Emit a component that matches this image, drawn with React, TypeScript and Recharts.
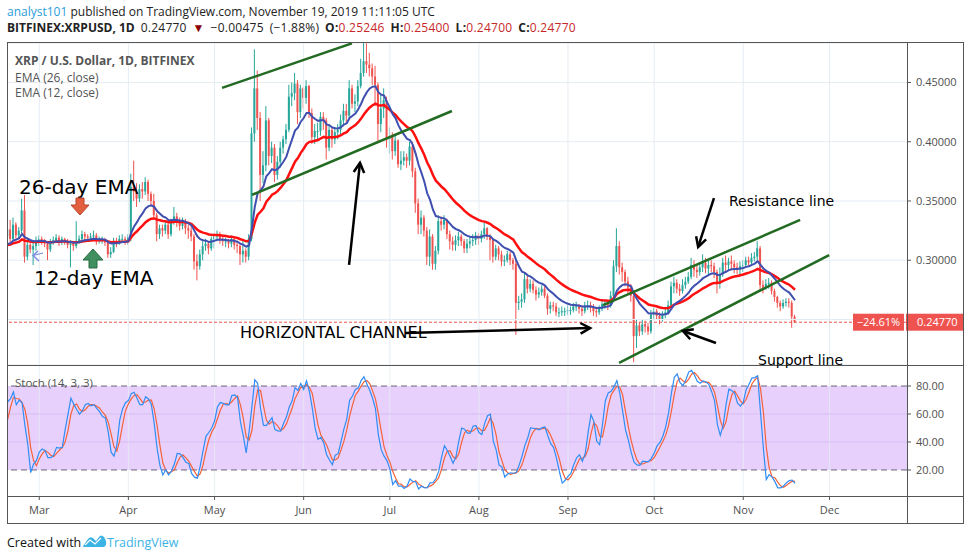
import React from "react";
import {
  ComposedChart,
  Bar,
  Line,
  XAxis,
  YAxis,
  CartesianGrid,
  ReferenceLine,
  ReferenceArea,
} from "recharts";

// day index: Mar 1 = 0, first candle Feb 18 = -11
const FIRST_DAY = -11;
const X_DOMAIN = [-11.24, 301.98];
const MONTHS = ["Mar", "Apr", "May", "Jun", "Jul", "Aug", "Sep", "Oct", "Nov", "Dec"];
const MONTH_DAYS = [0, 31, 61, 92, 122, 153, 184, 214, 245, 275];
const PRICE_TICKS = [0.3, 0.35, 0.4, 0.45];
const PRICE_DOMAIN = [0.2116, 0.4833];
const STOCH_TICKS = [20, 40, 60, 80];
const STOCH_DOMAIN = [1.4, 94.3];
const LAST_PRICE = 0.2477;

// Feb 1 - Feb 17, only used to warm up the indicators
const WARM_CLOSES = [0.306, 0.309, 0.305, 0.302, 0.3, 0.302, 0.301, 0.318, 0.314, 0.311, 0.308, 0.312, 0.308, 0.31, 0.311, 0.313, 0.32];
const WARM_HIGHS = [0.312, 0.313, 0.31, 0.307, 0.305, 0.306, 0.305, 0.322, 0.33, 0.318, 0.314, 0.316, 0.314, 0.314, 0.315, 0.317, 0.326];
const WARM_LOWS = [0.3, 0.303, 0.3, 0.298, 0.296, 0.298, 0.297, 0.3, 0.31, 0.306, 0.304, 0.306, 0.303, 0.305, 0.307, 0.308, 0.311];
const EMA12_SEED = 0.309;
const EMA26_SEED = 0.316;

// daily closes Feb 18 - Nov 19
const CLOSES = [
  // Feb
  0.326, 0.318, 0.33, 0.321, 0.325, 0.342, 0.303, 0.313, 0.309, 0.312, 0.316,
  // Mar
  0.318, 0.316, 0.314, 0.309, 0.316, 0.317, 0.319, 0.315, 0.318, 0.316, 0.313, 0.314, 0.312, 0.315, 0.318, 0.322,
  0.32, 0.319, 0.32, 0.321, 0.316, 0.317, 0.317, 0.315, 0.305, 0.307, 0.316, 0.314, 0.318, 0.318, 0.317,
  // Apr
  0.319, 0.362, 0.358, 0.352, 0.36, 0.358, 0.366, 0.356, 0.35, 0.338, 0.322, 0.327, 0.325, 0.33, 0.322,
  0.333, 0.337, 0.333, 0.329, 0.333, 0.327, 0.325, 0.32, 0.299, 0.295, 0.305, 0.312, 0.314, 0.31, 0.318,
  // May
  0.32, 0.322, 0.318, 0.316, 0.316, 0.314, 0.318, 0.313, 0.312, 0.305, 0.308, 0.303, 0.318, 0.407, 0.445, 0.42,
  0.372, 0.38, 0.418, 0.388, 0.395, 0.372, 0.383, 0.395, 0.402, 0.41, 0.438, 0.441, 0.449, 0.425, 0.445,
  // Jun
  0.437, 0.447, 0.424, 0.404, 0.409, 0.409, 0.421, 0.418, 0.395, 0.41, 0.402, 0.408, 0.41, 0.418, 0.426,
  0.422, 0.445, 0.432, 0.434, 0.447, 0.458, 0.468, 0.465, 0.462, 0.455, 0.448, 0.415, 0.428, 0.435, 0.402,
  // Jul
  0.404, 0.392, 0.401, 0.381, 0.384, 0.387, 0.384, 0.396, 0.375, 0.348, 0.33, 0.336, 0.325, 0.303, 0.32, 0.297,
  0.308, 0.333, 0.33, 0.334, 0.322, 0.316, 0.313, 0.317, 0.32, 0.316, 0.31, 0.314, 0.316, 0.317, 0.321,
  // Aug
  0.318, 0.322, 0.327, 0.32, 0.317, 0.303, 0.31, 0.305, 0.299, 0.3, 0.305, 0.3, 0.297, 0.264, 0.265, 0.267,
  0.284, 0.276, 0.28, 0.275, 0.271, 0.273, 0.276, 0.27, 0.259, 0.262, 0.261, 0.256, 0.256, 0.257, 0.257,
  // Sep
  0.258, 0.258, 0.261, 0.261, 0.259, 0.257, 0.262, 0.262, 0.26, 0.257, 0.256, 0.259, 0.263, 0.264, 0.262,
  0.27, 0.295, 0.312, 0.294, 0.29, 0.282, 0.277, 0.27, 0.236, 0.245, 0.24, 0.246, 0.244, 0.24, 0.254,
  // Oct
  0.257, 0.253, 0.25, 0.254, 0.256, 0.262, 0.278, 0.281, 0.276, 0.274, 0.279, 0.282, 0.286, 0.296, 0.292, 0.29,
  0.294, 0.298, 0.293, 0.296, 0.295, 0.29, 0.28, 0.288, 0.298, 0.296, 0.299, 0.297, 0.294, 0.292, 0.295,
  // Nov
  0.296, 0.3, 0.298, 0.302, 0.303, 0.31, 0.279, 0.277, 0.28, 0.281, 0.274, 0.269, 0.264, 0.261, 0.264, 0.265,
  0.264, 0.2525, 0.2477,
];

const HIGHS = [
  0.331, 0.334, 0.336, 0.332, 0.328, 0.352, 0.355, 0.318, 0.316, 0.315, 0.32,
  0.321, 0.32, 0.318, 0.316, 0.318, 0.32, 0.322, 0.321, 0.32, 0.319, 0.318, 0.317, 0.316, 0.333, 0.321, 0.325,
  0.324, 0.322, 0.323, 0.325, 0.323, 0.32, 0.32, 0.319, 0.316, 0.311, 0.319, 0.319, 0.321, 0.322, 0.32,
  0.322, 0.373, 0.384, 0.365, 0.364, 0.366, 0.37, 0.368, 0.358, 0.356, 0.34, 0.33, 0.33, 0.333, 0.334,
  0.335, 0.345, 0.34, 0.336, 0.336, 0.335, 0.33, 0.33, 0.322, 0.305, 0.309, 0.316, 0.318, 0.316, 0.32,
  0.323, 0.325, 0.324, 0.32, 0.319, 0.318, 0.321, 0.32, 0.316, 0.314, 0.318, 0.31, 0.322, 0.412, 0.478, 0.46,
  0.425, 0.392, 0.43, 0.42, 0.4, 0.398, 0.388, 0.4, 0.405, 0.415, 0.448, 0.45, 0.458, 0.452, 0.448,
  0.446, 0.452, 0.448, 0.428, 0.415, 0.416, 0.425, 0.425, 0.42, 0.415, 0.412, 0.412, 0.415, 0.423, 0.432,
  0.432, 0.452, 0.448, 0.44, 0.452, 0.47, 0.487, 0.483, 0.475, 0.466, 0.464, 0.45, 0.44, 0.445, 0.438,
  0.412, 0.408, 0.405, 0.402, 0.392, 0.392, 0.39, 0.4, 0.4, 0.378, 0.352, 0.342, 0.338, 0.328, 0.326, 0.322,
  0.312, 0.338, 0.337, 0.338, 0.335, 0.325, 0.32, 0.321, 0.324, 0.322, 0.318, 0.318, 0.32, 0.322, 0.324,
  0.323, 0.325, 0.332, 0.328, 0.322, 0.318, 0.313, 0.312, 0.308, 0.304, 0.308, 0.307, 0.302, 0.3, 0.27, 0.272,
  0.29, 0.287, 0.284, 0.283, 0.278, 0.277, 0.279, 0.278, 0.272, 0.265, 0.265, 0.264, 0.26, 0.261, 0.26,
  0.262, 0.261, 0.264, 0.265, 0.263, 0.262, 0.265, 0.266, 0.265, 0.263, 0.26, 0.262, 0.266, 0.267, 0.266,
  0.274, 0.3, 0.327, 0.316, 0.298, 0.292, 0.286, 0.28, 0.272, 0.25, 0.248, 0.25, 0.249, 0.247, 0.258,
  0.26, 0.259, 0.256, 0.257, 0.259, 0.266, 0.282, 0.286, 0.284, 0.28, 0.284, 0.286, 0.29, 0.302, 0.3, 0.296,
  0.298, 0.305, 0.302, 0.3, 0.3, 0.298, 0.292, 0.294, 0.302, 0.304, 0.302, 0.304, 0.3, 0.298, 0.299,
  0.3, 0.303, 0.303, 0.306, 0.307, 0.316, 0.312, 0.283, 0.284, 0.285, 0.283, 0.276, 0.27, 0.266, 0.267, 0.268,
  0.268, 0.266, 0.254,
];

const LOWS = [
  0.312, 0.314, 0.316, 0.318, 0.318, 0.323, 0.298, 0.3, 0.306, 0.296, 0.308,
  0.312, 0.313, 0.311, 0.3, 0.307, 0.313, 0.315, 0.312, 0.313, 0.313, 0.31, 0.294, 0.308, 0.31, 0.314, 0.316,
  0.316, 0.316, 0.317, 0.317, 0.313, 0.314, 0.314, 0.312, 0.302, 0.302, 0.306, 0.311, 0.313, 0.315, 0.313,
  0.313, 0.316, 0.35, 0.345, 0.349, 0.352, 0.355, 0.35, 0.345, 0.335, 0.316, 0.318, 0.32, 0.322, 0.318,
  0.32, 0.33, 0.328, 0.325, 0.326, 0.322, 0.318, 0.316, 0.292, 0.283, 0.292, 0.3, 0.308, 0.305, 0.308,
  0.31, 0.316, 0.314, 0.312, 0.311, 0.31, 0.311, 0.309, 0.306, 0.296, 0.298, 0.298, 0.3, 0.316, 0.4, 0.41,
  0.35, 0.365, 0.375, 0.38, 0.382, 0.366, 0.368, 0.378, 0.39, 0.398, 0.408, 0.43, 0.435, 0.415, 0.42,
  0.428, 0.432, 0.42, 0.398, 0.398, 0.402, 0.405, 0.41, 0.385, 0.392, 0.395, 0.398, 0.402, 0.406, 0.414,
  0.415, 0.42, 0.428, 0.425, 0.43, 0.445, 0.455, 0.458, 0.455, 0.448, 0.43, 0.4, 0.408, 0.42, 0.395,
  0.39, 0.385, 0.388, 0.378, 0.376, 0.38, 0.378, 0.38, 0.37, 0.34, 0.322, 0.322, 0.32, 0.296, 0.295, 0.292,
  0.292, 0.305, 0.325, 0.326, 0.318, 0.309, 0.308, 0.308, 0.312, 0.312, 0.306, 0.306, 0.31, 0.312, 0.313,
  0.313, 0.315, 0.318, 0.317, 0.3, 0.298, 0.3, 0.3, 0.295, 0.295, 0.298, 0.296, 0.292, 0.237, 0.258, 0.26,
  0.264, 0.272, 0.273, 0.272, 0.266, 0.268, 0.27, 0.268, 0.254, 0.255, 0.257, 0.253, 0.252, 0.253, 0.253,
  0.254, 0.254, 0.256, 0.257, 0.255, 0.253, 0.255, 0.258, 0.256, 0.253, 0.252, 0.254, 0.257, 0.259, 0.258,
  0.26, 0.268, 0.29, 0.288, 0.282, 0.278, 0.272, 0.265, 0.214, 0.226, 0.236, 0.237, 0.239, 0.237, 0.238,
  0.25, 0.25, 0.246, 0.248, 0.251, 0.254, 0.26, 0.272, 0.272, 0.27, 0.272, 0.276, 0.28, 0.284, 0.286, 0.285,
  0.287, 0.29, 0.289, 0.288, 0.29, 0.285, 0.272, 0.276, 0.286, 0.29, 0.291, 0.292, 0.289, 0.288, 0.288,
  0.29, 0.294, 0.295, 0.296, 0.299, 0.3, 0.275, 0.272, 0.275, 0.276, 0.271, 0.265, 0.26, 0.257, 0.259, 0.261,
  0.26, 0.243, 0.247,
];

// drawn channel lines [day, price]
const TREND_LINES = [
  [[63.6, 0.4454], [108.8, 0.483]],
  [[74.0, 0.3551], [143.6, 0.4259]],
  [[196.2, 0.2622], [264.8, 0.334]],
  [[201.8, 0.2133], [274.9, 0.3044]],
];
const ARROWS = [
  [[107.8, 0.296], [111.6, 0.3821]],
  [[127.3, 0.2386], [191.7, 0.2428]],
  [[234.8, 0.3525], [229.3, 0.3112]],
  [[235.5, 0.2302], [224.0, 0.2403]],
];

const UP = "#26a69a";
const DOWN = "#ef5350";
const GRID = "#e4ecf3";
const AXIS_TEXT = "#4f4f4f";

function ema(values: number[], n: number, seed: number) {
  const a = 2 / (n + 1);
  let e = seed;
  return values.map((v) => (e = e + a * (v - e)));
}

function sma3(arr: (number | null)[]) {
  return arr.map((v, i) =>
    i < 2 || v == null || arr[i - 1] == null || arr[i - 2] == null
      ? null
      : ((v as number) + (arr[i - 1] as number) + (arr[i - 2] as number)) / 3
  );
}

const ALL_C = [...WARM_CLOSES, ...CLOSES];
const ALL_H = [...WARM_HIGHS, ...HIGHS];
const ALL_L = [...WARM_LOWS, ...LOWS];
const W = WARM_CLOSES.length;
const EMA12 = ema(ALL_C, 12, EMA12_SEED);
const EMA26 = ema(ALL_C, 26, EMA26_SEED);
const RAW_K = ALL_C.map((c, i) => {
  if (i < 13) return null;
  const hh = Math.max(...ALL_H.slice(i - 13, i + 1));
  const ll = Math.min(...ALL_L.slice(i - 13, i + 1));
  return (100 * (c - ll)) / (hh - ll);
});
const K = sma3(RAW_K);
const D = sma3(K);

const ROWS = CLOSES.map((close, i) => {
  const open = ALL_C[W + i - 1];
  return {
    day: FIRST_DAY + i,
    open,
    close,
    high: Math.max(HIGHS[i], open, close),
    low: Math.min(LOWS[i], open, close),
    ema12: EMA12[W + i],
    ema26: EMA26[W + i],
    k: K[W + i],
    d: D[W + i],
  };
});

function Candle(props: any) {
  const { x, y, width, height, payload } = props;
  if (!payload) return null;
  const { open, close, high, low } = payload;
  const top = Math.min(y, y + height);
  const span = Math.abs(height);
  const ppu = span / (high - low || 1);
  const yOf = (v: number) => top + (high - v) * ppu;
  const color = close >= open ? UP : DOWN;
  const cx = x + width / 2;
  const bTop = yOf(Math.max(open, close));
  const bBot = yOf(Math.min(open, close));
  return (
    <g>
      <line x1={cx} x2={cx} y1={top} y2={top + span} stroke={color} strokeWidth={1} />
      <rect x={cx - 1} y={bTop} width={2} height={Math.max(1, bBot - bTop)} fill={color} />
    </g>
  );
}

function ArrowShape(p: any) {
  const { x1, y1, x2, y2 } = p;
  const ang = Math.atan2(y2 - y1, x2 - x1);
  const len = 11;
  const s = 0.5;
  const ax = x2 - len * Math.cos(ang - s);
  const ay = y2 - len * Math.sin(ang - s);
  const bx = x2 - len * Math.cos(ang + s);
  const by = y2 - len * Math.sin(ang + s);
  return (
    <g>
      <line x1={x1} y1={y1} x2={x2} y2={y2} stroke="#000" strokeWidth={2.5} />
      <polyline points={`${ax},${ay} ${x2},${y2} ${bx},${by}`} fill="none" stroke="#000" strokeWidth={2.5} />
    </g>
  );
}

function PriceTag(props: any) {
  const vb = props.viewBox || {};
  const right = vb.x + vb.width;
  const y = vb.y;
  return (
    <g>
      <rect x={right - 54} y={y - 8.5} width={51} height={17} fill="#ef5350" />
      <text x={right - 28.5} y={y + 4} textAnchor="middle" fill="#fff" fontSize={11} fontFamily="Open Sans">
        −24.61%
      </text>
      <rect x={right - 1} y={y - 8.5} width={58} height={17} fill="#ef5350" />
      <text x={right + 10} y={y + 4} fill="#fff" fontSize={11} fontFamily="Open Sans">
        0.24770
      </text>
    </g>
  );
}

const monthLabel = (v: number) => MONTHS[MONTH_DAYS.indexOf(v)] ?? "";

export default function App() {
  const red = { color: "#c62828" };
  return (
    <div
      style={{
        position: "absolute",
        left: 0,
        top: 0,
        width: 971,
        height: 560,
        background: "#fff",
        fontFamily: "'Open Sans', sans-serif",
        overflow: "hidden",
      }}
    >
      <div style={{ position: "absolute", left: 7, top: 4, fontSize: 12, lineHeight: "16px", whiteSpace: "nowrap", color: "#222" }}>
        <span style={{ color: "#2b9ed9" }}>analyst101</span> published on TradingView.com, November 19, 2019 11:11:05 UTC
      </div>
      <div style={{ position: "absolute", left: 7, top: 20, fontSize: 12, lineHeight: "16px", whiteSpace: "nowrap", color: "#222" }}>
        <b>BITFINEX:XRPUSD, 1D</b>
        <span style={{ letterSpacing: 0.25, wordSpacing: 2.5 }}>
          {" "}0.24770 <span style={{ color: "#8b0000" }}>▼</span> −0.00475 (−1.88%) <b>O:</b>
          <span style={red}>0.25246</span> <b>H:</b>
          <span style={red}>0.25400</span> <b>L:</b>
          <span style={red}>0.24700</span> <b>C:</b>
          <span style={red}>0.24770</span>
        </span>
      </div>

      <div style={{ position: "absolute", left: 7, top: 43 }}>
        <ComposedChart width={957} height={322} data={ROWS} margin={{ top: 0, right: 0, bottom: 0, left: 0 }}>
          <CartesianGrid vertical={false} stroke={GRID} />
          <XAxis dataKey="day" type="number" domain={X_DOMAIN} hide allowDataOverflow />
          <YAxis
            orientation="right"
            domain={PRICE_DOMAIN}
            ticks={PRICE_TICKS}
            allowDataOverflow
            width={57}
            axisLine={false}
            tickSize={4}
            tickMargin={5}
            tickLine={{ stroke: "#555" }}
            tick={{ fontSize: 11, fill: AXIS_TEXT, fontFamily: "Open Sans" }}
            tickFormatter={(v: number) => v.toFixed(5)}
          />
          <ReferenceLine y={0.25} stroke={GRID} />
          {MONTH_DAYS.map((d) => (
            <ReferenceLine key={d} x={d} stroke={GRID} />
          ))}
          <Bar
            dataKey={(r: any) => [r.low, r.high]}
            barSize={2}
            shape={<Candle />}
            isAnimationActive={false}
          />
          <Line dataKey="ema26" stroke="#ff1010" strokeWidth={2.5} dot={false} activeDot={false} isAnimationActive={false} />
          <Line dataKey="ema12" stroke="#3f4fb0" strokeWidth={2} dot={false} activeDot={false} isAnimationActive={false} />
          <ReferenceLine y={LAST_PRICE} stroke="#ef5350" strokeDasharray="3 2" label={<PriceTag />} />
          {TREND_LINES.map((s, i) => (
            <ReferenceLine
              key={"t" + i}
              segment={[{ x: s[0][0], y: s[0][1] }, { x: s[1][0], y: s[1][1] }]}
              stroke="#236b23"
              strokeWidth={2.5}
              ifOverflow="visible"
            />
          ))}
          {ARROWS.map((s, i) => (
            <ReferenceLine
              key={"a" + i}
              segment={[{ x: s[0][0], y: s[0][1] }, { x: s[1][0], y: s[1][1] }]}
              shape={(p: any) => <ArrowShape {...p} />}
              ifOverflow="visible"
            />
          ))}
        </ComposedChart>
      </div>

      <div style={{ position: "absolute", left: 7, top: 366 }}>
        <ComposedChart width={957} height={157} data={ROWS} margin={{ top: 0, right: 0, bottom: 0, left: 0 }}>
          <XAxis
            dataKey="day"
            type="number"
            domain={X_DOMAIN}
            ticks={MONTH_DAYS}
            allowDataOverflow
            height={27}
            axisLine={false}
            tickSize={4}
            tickMargin={6}
            tickLine={{ stroke: "#555" }}
            tick={{ fontSize: 11, fill: AXIS_TEXT, fontFamily: "Open Sans" }}
            tickFormatter={monthLabel}
          />
          <YAxis
            orientation="right"
            domain={STOCH_DOMAIN}
            ticks={STOCH_TICKS}
            allowDataOverflow
            width={57}
            axisLine={false}
            tickSize={4}
            tickMargin={5}
            tickLine={{ stroke: "#555" }}
            tick={{ fontSize: 11, fill: AXIS_TEXT, fontFamily: "Open Sans" }}
            tickFormatter={(v: number) => v.toFixed(2)}
          />
          <ReferenceArea y1={20} y2={80} fill="#e8d0fc" fillOpacity={1} stroke="none" />
          {MONTH_DAYS.map((d) => (
            <ReferenceLine key={d} x={d} stroke={GRID} strokeOpacity={0.8} />
          ))}
          <ReferenceLine y={40} stroke="#d6bdf4" />
          <ReferenceLine y={60} stroke="#d6bdf4" />
          <ReferenceLine y={80} stroke="#6b6478" strokeDasharray="6 4" />
          <ReferenceLine y={20} stroke="#6b6478" strokeDasharray="6 4" />
          <Line dataKey="d" stroke="#f4623a" strokeWidth={1.2} dot={false} activeDot={false} isAnimationActive={false} />
          <Line dataKey="k" stroke="#2f8df5" strokeWidth={1.2} dot={false} activeDot={false} isAnimationActive={false} />
        </ComposedChart>
      </div>

      <svg width={971} height={560} style={{ position: "absolute", left: 0, top: 0, pointerEvents: "none" }}>
        <rect x={7.5} y={42.5} width={956} height={481} fill="none" stroke="#555" />
        <line x1={7} x2={964} y1={365.5} y2={365.5} stroke="#555" />
        <line x1={7} x2={964} y1={496.5} y2={496.5} stroke="#555" />
        <line x1={907.5} x2={907.5} y1={42} y2={524} stroke="#555" />

        <text x={15} y={65} fontFamily="Open Sans" fontSize={12} fontWeight="bold" fill="#555">
          XRP / U.S. Dollar, 1D, BITFINEX
        </text>
        <text x={15} y={81.5} fontFamily="Open Sans" fontSize={12} fill="#555">EMA (26, close)</text>
        <text x={15} y={97} fontFamily="Open Sans" fontSize={12} fill="#555">EMA (12, close)</text>
        <text x={15} y={387} fontFamily="Open Sans" fontSize={11.5} fill="#555">Stoch (14, 3, 3)</text>

        <text x={19} y={194} fontFamily="DejaVu Sans" fontSize={20} fill="#000">26-day EMA</text>
        <text x={34} y={285} fontFamily="DejaVu Sans" fontSize={20} fill="#000">12-day EMA</text>
        <text x={729} y={206} fontFamily="DejaVu Sans" fontSize={14} fill="#000">Resistance line</text>
        <text x={758} y={365} fontFamily="DejaVu Sans" fontSize={14} fill="#000">Support line</text>
        <text x={240} y={338} fontFamily="DejaVu Sans" fontSize={16} fill="#000">HORIZONTAL CHANNEL</text>

        <polygon
          points="76,198 84,198 84,205 89,205 80,215 71,205 76,205"
          fill="#e2603f"
          stroke="#b8452c"
        />
        <polygon
          points="93,249 103,260 97,260 97,268 89,268 89,260 83,260"
          fill="#3f8f5f"
          stroke="#2b6b43"
        />
        <polyline points="38,251 33,255.5 39,261" fill="none" stroke="#7a8ee0" strokeWidth={1.5} />
        <line x1={33} y1={255.5} x2={43} y2={253} stroke="#7a8ee0" strokeWidth={1.2} />

        <text x={7} y={547} fontFamily="Open Sans" fontSize={12.5} fill="#111">Created with</text>
        <path
          d="M83 546 L88 539 Q90 536 93 538 L96 541 L99 537 Q101 534 104 537 L106 541 Q107 545 104 547 L86 547 Q82 547 83 546 Z"
          fill="#3bb3e4"
        />
        <polyline points="85,545 90,540 95,544 101,538" fill="none" stroke="#fff" strokeWidth={1.2} />
        <text x={107} y={547} fontFamily="Open Sans" fontSize={12.5} fill="#3bb3e4">TradingView</text>
      </svg>
    </div>
  );
}
